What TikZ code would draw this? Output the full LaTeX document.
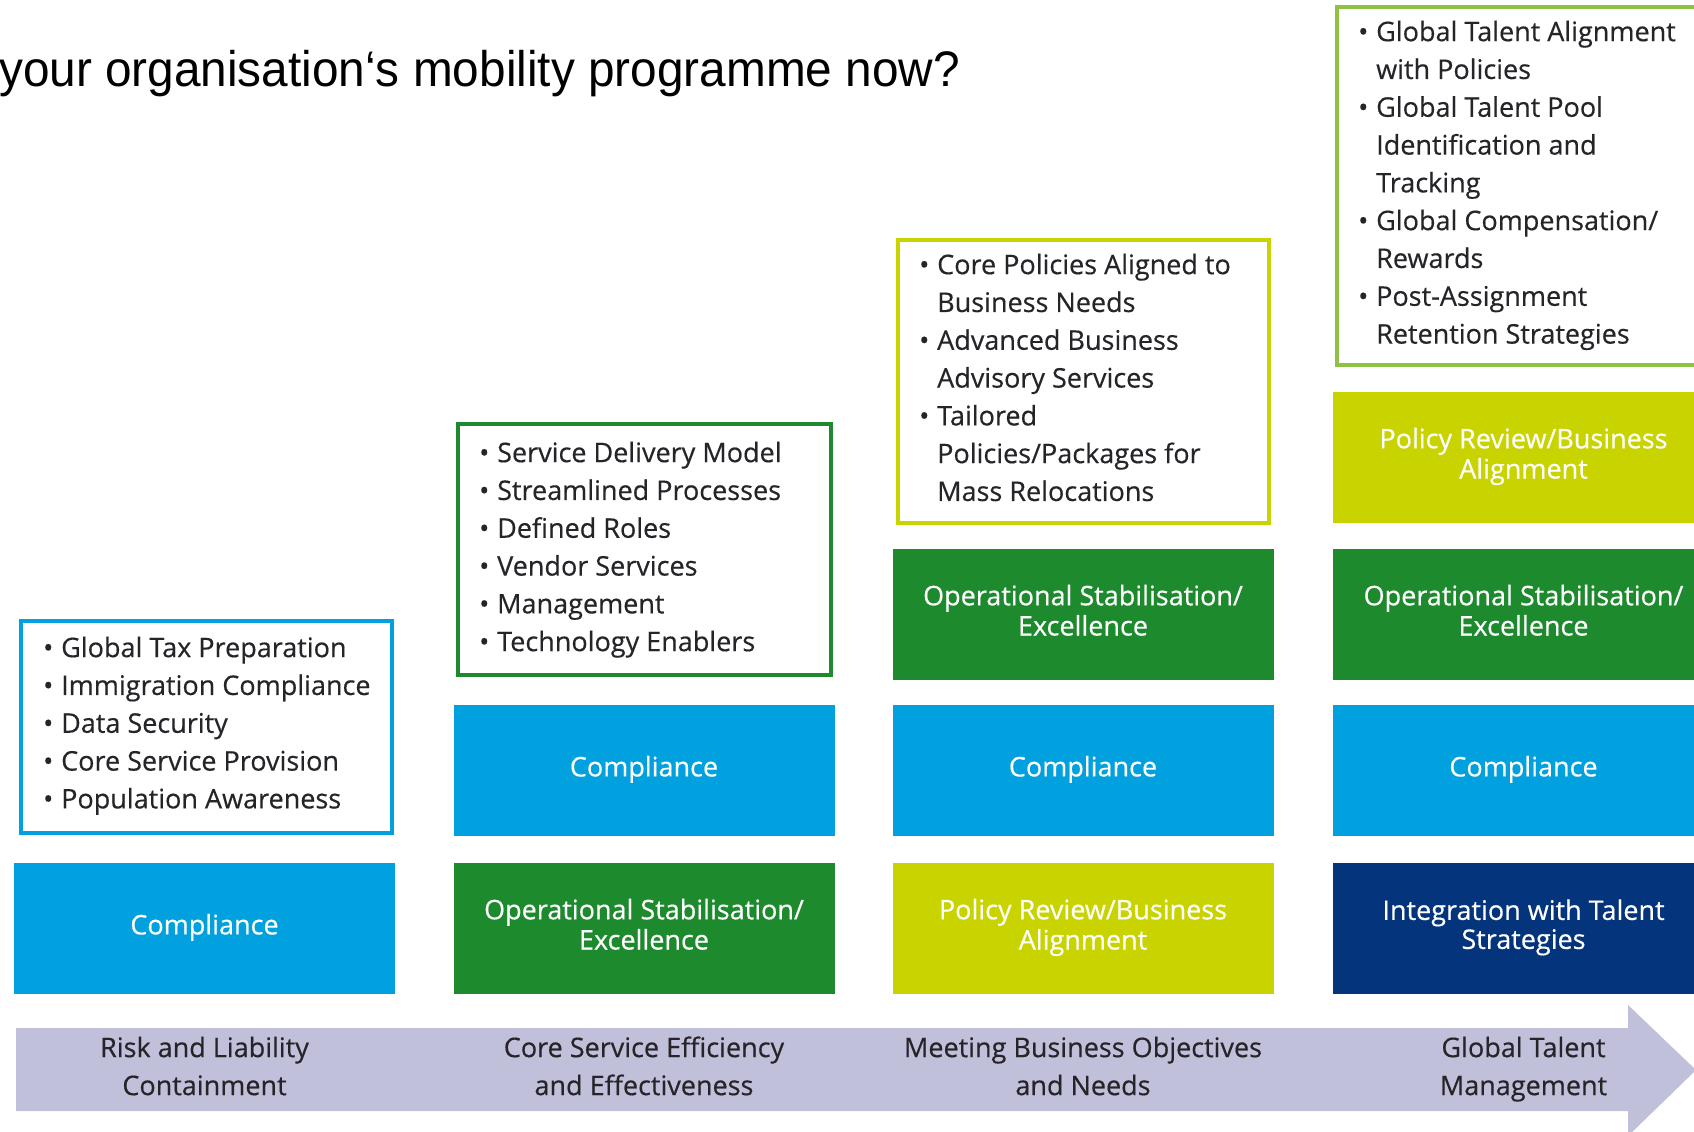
\documentclass[tikz,border=0pt]{standalone}
\usepackage{fontspec}
\setmainfont[FakeBold=0.4]{Open Sans}
\newfontfamily\headfont[FakeStretch=0.955]{Liberation Sans}

\definecolor{cblue}{RGB}{0,161,222}
\definecolor{cgreen}{RGB}{30,138,46}
\definecolor{clime}{RGB}{201,211,0}
\definecolor{cnavy}{RGB}{4,52,124}
\definecolor{cleaf}{RGB}{141,194,67}
\definecolor{clav}{RGB}{192,192,218}
\definecolor{ink}{RGB}{38,36,40}

% bullet line and continuation line of a list
\newcommand{\bitem}{\strut\makebox[18pt][l]{\textbullet}}
\newcommand{\bcont}{\strut\hspace*{18pt}}

\begin{document}
\begin{tikzpicture}[x=1pt,y=-1pt,
  tile/.style={minimum width=381pt, minimum height=131pt, inner sep=0pt, outer sep=0pt,
    text=white, align=center, font=\fontsize{27}{29}\selectfont},
  frame/.style={draw=#1, line width=4pt, fill=white, inner sep=0pt, outer sep=0pt},
  itemlist/.style={anchor=north west, inner sep=0pt, align=left, text=ink,
    font=\fontsize{27}{37.8}\selectfont},
  stagelabel/.style={align=center, inner sep=0pt, text=ink, yshift=1pt,
    font=\fontsize{27}{38}\selectfont}]

\useasboundingbox (0,0) rectangle (1694,1132);
\clip (0,0) rectangle (1694,1132);
\fill[white] (0,0) rectangle (1694,1132);

% heading
\node[anchor=base west, inner sep=0pt, font=\headfont\fontsize{50}{60}\selectfont]
  (title) at (-1,86) {your organisation‘s mobility programme now?};

% progression arrow
\fill[clav] (16,1028) -- (1628,1028) -- (1628,1005) -- (1696,1070)
  -- (1628,1136) -- (1628,1111) -- (16,1111) -- cycle;
\node[stagelabel] (s1) at (204.5,1069.5) {\strut Risk and Liability\\\strut Containment};
\node[stagelabel] (s2) at (644,1069.5) {\strut Core Service Efficiency\\\strut and Effectiveness};
\node[stagelabel] (s3) at (1083,1069.5) {\strut Meeting Business Objectives\\\strut and Needs};
\node[stagelabel] (s4) at (1523.5,1069.5) {\strut Global Talent\\\strut Management};

% stage 1
\node[tile, fill=cblue] (c1r1) at (204.5,928.5) {\strut Compliance};
\node[frame=cblue, minimum width=371pt, minimum height=212pt] (f1) at (206.5,727) {};
\node[itemlist] (l1) at (43,630.5) {%
  \bitem Global Tax Preparation\\
  \bitem Immigration Compliance\\
  \bitem Data Security\\
  \bitem Core Service Provision\\
  \bitem Population Awareness};

% stage 2
\node[tile, fill=cgreen] (c2r1) at (644,928.5) {\strut Operational Stabilisation/\\\strut Excellence};
\node[tile, fill=cblue] (c2r2) at (644,770.5) {\strut Compliance};
\node[frame=cgreen, minimum width=373pt, minimum height=251pt] (f2) at (644.5,549.5) {};
\node[itemlist] (l2) at (479,435.5) {%
  \bitem Service Delivery Model\\
  \bitem Streamlined Processes\\
  \bitem Defined Roles\\
  \bitem Vendor Services\\
  \bitem Management\\
  \bitem Technology Enablers};

% stage 3
\node[tile, fill=clime] (c3r1) at (1083,928.5) {\strut Policy Review/Business\\\strut Alignment};
\node[tile, fill=cblue] (c3r2) at (1083,770.5) {\strut Compliance};
\node[tile, fill=cgreen] (c3r3) at (1083,614.5) {\strut Operational Stabilisation/\\\strut Excellence};
\node[frame=clime, minimum width=371pt, minimum height=283pt] (f3) at (1083.5,381.5) {};
\node[itemlist] (l3) at (919,247.5) {%
  \bitem Core Policies Aligned to\\
  \bcont Business Needs\\
  \bitem Advanced Business\\
  \bcont Advisory Services\\
  \bitem Tailored\\
  \bcont Policies/Packages for\\
  \bcont Mass Relocations};

% stage 4
\node[tile, fill=cnavy] (c4r1) at (1523.5,928.5) {\strut Integration with Talent\\\strut Strategies};
\node[tile, fill=cblue] (c4r2) at (1523.5,770.5) {\strut Compliance};
\node[tile, fill=cgreen] (c4r3) at (1523.5,614.5) {\strut Operational Stabilisation/\\\strut Excellence};
\node[tile, fill=clime] (c4r4) at (1523.5,457.5) {\strut Policy Review/Business\\\strut Alignment};
\node[frame=cleaf, minimum width=383pt, minimum height=358pt] (f4) at (1528.5,186) {};
\node[itemlist] (l4) at (1358,14.5) {%
  \bitem Global Talent Alignment\\
  \bcont with Policies\\
  \bitem Global Talent Pool\\
  \bcont Identification and\\
  \bcont Tracking\\
  \bitem Global Compensation/\\
  \bcont Rewards\\
  \bitem Post-Assignment\\
  \bcont Retention Strategies};

\end{tikzpicture}
\end{document}
